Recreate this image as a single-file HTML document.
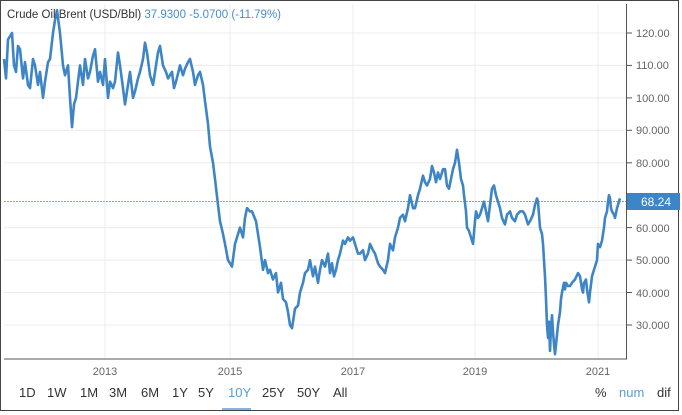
<!DOCTYPE html>
<html><head><meta charset="utf-8"><style>
body{margin:0;width:682px;height:415px;background:#fff;overflow:hidden;font-family:"Liberation Sans",sans-serif}
</style></head><body>
<svg id="s" width="682" height="415" xmlns="http://www.w3.org/2000/svg" style="position:absolute;left:0;top:0">
<rect x="0.5" y="0.5" width="678" height="410" fill="#fff" stroke="#444"/>
<g stroke="#ececec" stroke-width="1">
<line x1="4" x2="626" y1="33" y2="33"/><line x1="4" x2="626" y1="65.4" y2="65.4"/><line x1="4" x2="626" y1="97.9" y2="97.9"/><line x1="4" x2="626" y1="130.3" y2="130.3"/><line x1="4" x2="626" y1="162.8" y2="162.8"/><line x1="4" x2="626" y1="227.6" y2="227.6"/><line x1="4" x2="626" y1="260.1" y2="260.1"/><line x1="4" x2="626" y1="292.5" y2="292.5"/><line x1="4" x2="626" y1="325" y2="325"/>
<line x1="105" x2="105" y1="4" y2="359"/><line x1="230" x2="230" y1="4" y2="359"/><line x1="353" x2="353" y1="4" y2="359"/><line x1="475" x2="475" y1="4" y2="359"/><line x1="598" x2="598" y1="4" y2="359"/>
</g>
<line x1="4" x2="627" y1="359" y2="359" stroke="#555"/>
<line x1="626.5" x2="626.5" y1="4" y2="359" stroke="#555"/>
<g stroke="#555"><line x1="626" x2="632" y1="33" y2="33"/><line x1="626" x2="632" y1="65.4" y2="65.4"/><line x1="626" x2="632" y1="97.9" y2="97.9"/><line x1="626" x2="632" y1="130.3" y2="130.3"/><line x1="626" x2="632" y1="162.8" y2="162.8"/><line x1="626" x2="632" y1="195" y2="195"/><line x1="626" x2="632" y1="227.6" y2="227.6"/><line x1="626" x2="632" y1="260.1" y2="260.1"/><line x1="626" x2="632" y1="292.5" y2="292.5"/><line x1="626" x2="632" y1="325" y2="325"/></g>
<g font-size="11" fill="#666"><text x="636" y="37">120.00</text><text x="636" y="69">110.00</text><text x="636" y="102">100.00</text><text x="636" y="134">90.000</text><text x="636" y="167">80.000</text><text x="636" y="232">60.000</text><text x="636" y="264">50.000</text><text x="636" y="297">40.000</text><text x="636" y="329">30.000</text></g>
<line x1="4" x2="626" y1="201.5" y2="201.5" stroke="#4a8ccc" stroke-width="0.8" stroke-dasharray="2,1"/>
<rect x="627" y="193" width="53" height="17" fill="#3d85c6"/>
<text x="641" y="206" font-size="12" fill="#fff">68.24</text>
<polyline id="p" fill="none" stroke="#3d85c6" stroke-width="2.6" stroke-linejoin="round"/>
<g font-size="11" fill="#666" text-anchor="middle"><text x="105" y="375">2013</text><text x="230" y="375">2015</text><text x="353" y="375">2017</text><text x="475" y="375">2019</text><text x="598" y="375">2021</text></g>
<g font-size="13" fill="#333"><text x="19" y="397">1D</text><text x="47" y="397">1W</text><text x="80" y="397">1M</text><text x="109" y="397">3M</text><text x="141" y="397">6M</text><text x="172" y="397">1Y</text><text x="198" y="397">5Y</text><text x="228" y="397" fill="#5b9bd5">10Y</text><text x="262" y="397">25Y</text><text x="297" y="397">50Y</text><text x="333" y="397">All</text>
<text x="595" y="397">%</text><text x="619" y="397" fill="#5b9bd5">num</text><text x="657" y="397">dif</text></g>
<line x1="222" x2="251" y1="409" y2="409" stroke="#5b9bd5" stroke-width="1.5"/>
<text x="7" y="18" font-size="11.5" fill="#333">Crude Oil Brent (USD/Bbl) <tspan fill="#4a8ccc">37.9300  -5.0700 (-11.79%)</tspan></text>
</svg>
<script>
var d=[4,112,6,106,8,118,12,120,14,110,16,108,18,116,20,115,23,106,25,111,28,104,30,103,33,112,35,110,38,104,40,108,43,100,45,105,48,111,50,112,53,120,55,124,57,127,60,120,63,110,65,107,68,110,70,100,72,91,74,98,76,100,80,110,83,104,85,112,88,106,90,108,93,113,95,115,98,105,100,108,103,104,105,112,108,100,110,105,113,103,115,105,118,114,120,110,123,103,125,98,128,104,130,108,133,100,135,102,138,106,140,108,143,112,145,117,147,114,150,107,153,104,155,108,158,114,160,116,163,110,166,108,168,106,172,108,174,103,176,105,180,110,183,107,185,109,188,111,190,112,193,108,195,104,198,107,200,108,203,104,205,99,208,92,210,85,213,80,215,75,218,67,220,62,223,58,225,55,228,50,230,49,232,48,235,55,238,58,240,60,243,57,245,63,247,66,250,65,252,65,256,62,258,58,260,54,263,47,265,50,268,46,270,47,273,44,276,46,278,40,281,43,283,38,286,37,288,34,290,30,292,29,295,35,298,36,300,40,303,43,305,46,308,47,310,50,313,45,315,48,318,43,320,47,322,50,325,48,328,52,330,46,332,49,334,45,336,47,338,50,340,52,343,56,345,55,348,57,350,56,353,57,355,55,358,52,360,52,363,53,365,50,368,52,370,55,373,53,375,52,378,49,380,48,383,47,385,46,388,50,390,55,393,53,395,57,398,60,400,63,403,64,405,62,408,66,410,70,413,66,415,66,418,70,420,72,423,76,425,74,427,73,430,75,432,79,434,77,436,74,438,77,440,75,443,78,445,78,447,73,449,72,451,75,453,78,455,80,457,84,459,80,461,75,463,73,464,70,466,65,467,60,469,59,470,58,472,56,473,55,475,62,476,65,478,63,480,64,482,66,484,68,486,65,488,62,490,67,492,72,494,73,496,70,498,68,500,66,502,63,505,61,507,64,510,65,512,63,515,62,517,64,520,65,523,65,525,64,528,61,530,62,533,64,535,67,537,69,538,68,539,64,540,60,542,58,543,55,544,50,545,45,546,38,547,30,548,26,549,31,550,22,551,29,552,33,553,28,554,24,555,21,556,24,557,27,558,30,560,34,561,38,562,40,564,43,565,41,566,43,568,42,570,42,572,43,575,44,578,46,580,45,582,41,583,40,584,43,586,44,587,41,589,37,590,40,592,45,594,47,595,48,597,50,598,55,600,54,602,56,604,60,605,63,607,65,608,68,609,70,610,69,611,66,612,65,614,64,615,63,617,66,618,67,620,69];
var s='';for(var i=0;i<d.length;i+=2){s+=d[i]+','+(33+(120-d[i+1])*3.244).toFixed(1)+' ';}
document.getElementById('p').setAttribute('points',s);
</script>
</body></html>
